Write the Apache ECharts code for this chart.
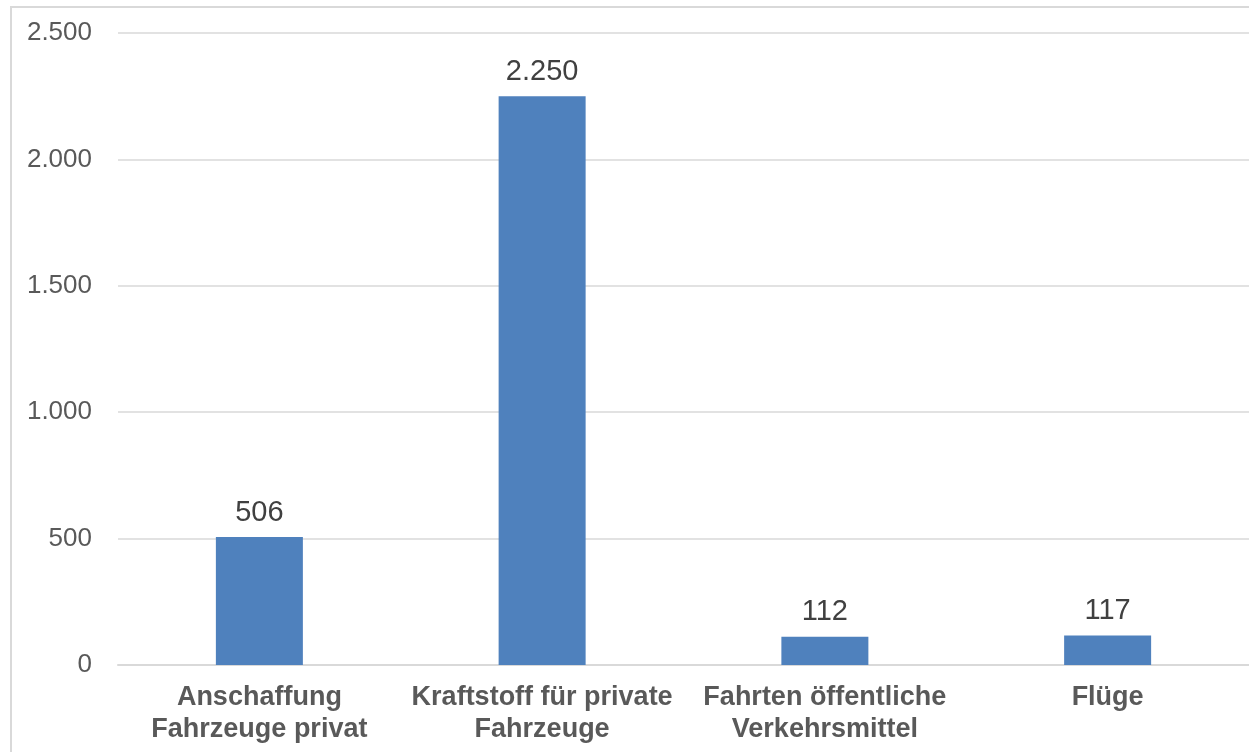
<!DOCTYPE html>
<html>
<head>
<meta charset="utf-8">
<script src="https://cdn.jsdelivr.net/npm/echarts@6/dist/echarts.min.js"></script>
<style>
  html, body { margin: 0; padding: 0; background: #fff; overflow: hidden; }
  #frame { position: absolute; left: 10px; top: 6px; width: 1300px; height: 800px; border: 2px solid #d9d9d9; box-sizing: border-box; }
  #chart { position: absolute; left: 0; top: 0; width: 1249px; height: 752px; }
</style>
</head>
<body>
<div id="frame"></div>
<div id="chart"></div>
<script>
const categories = ["Anschaffung\nFahrzeuge privat", "Kraftstoff für private\nFahrzeuge", "Fahrten öffentliche\nVerkehrsmittel", "Flüge"];
const values = [506, 2250, 112, 117];
const yTicks = [0, 500, 1000, 1500, 2000, 2500];

function fmt(v) {
  return String(v).replace(/\B(?=(\d{3})+(?!\d))/g, ".");
}

const myChart = echarts.init(document.getElementById('chart'));
const option = {
  animation: false,
  textStyle: { fontFamily: 'Liberation Sans, Arial, sans-serif' },
  grid: { left: 118, right: -1, top: 33, bottom: 87, containLabel: false },
  xAxis: {
    type: 'category',
    data: categories,
    axisLine: { show: true, lineStyle: { color: '#d9d9d9', width: 2 } },
    axisTick: { show: false },
    axisLabel: {
      color: '#595959',
      fontSize: 27,
      fontWeight: 'bold',
      lineHeight: 32,
      margin: 17,
      interval: 0
    }
  },
  yAxis: {
    type: 'value',
    min: yTicks[0],
    max: yTicks[yTicks.length - 1],
    interval: 500,
    axisLine: { show: false },
    axisTick: { show: false },
    splitLine: { lineStyle: { color: '#d9d9d9', width: 1.5 } },
    axisLabel: {
      color: '#595959',
      fontSize: 26,
      margin: 26,
      formatter: v => fmt(v)
    }
  },
  series: [{
    type: 'bar',
    data: values,
    barWidth: 87,
    itemStyle: { color: '#4f81bd' },
    label: {
      show: true,
      position: 'top',
      distance: 10,
      color: '#404040',
      fontSize: 29,
      formatter: p => fmt(p.value)
    }
  }]
};
myChart.setOption(option);
</script>
</body>
</html>
